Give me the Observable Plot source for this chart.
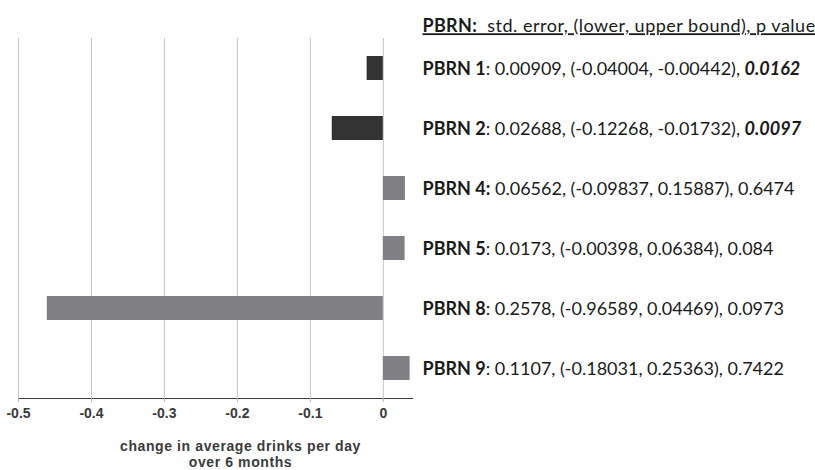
<!DOCTYPE html>
<html>
<head>
<meta charset="utf-8">
<script src="https://cdn.jsdelivr.net/npm/d3@7"></script>
<script src="https://cdn.jsdelivr.net/npm/@observablehq/plot@0.6"></script>
<style>
  body { margin: 0; background: #fff; }
</style>
</head>
<body>
<div id="chart"></div>
<script>
// Practice-based research networks, top to bottom
const sites = ["PBRN 1", "PBRN 2", "PBRN 4", "PBRN 5", "PBRN 8", "PBRN 9"];
// Bold lead-in of each annotation line (PBRN 4 carries its colon in bold)
const boldLabels = ["PBRN 1", "PBRN 2", "PBRN 4:", "PBRN 5", "PBRN 8", "PBRN 9"];
// Change in average drinks per day over 6 months
const change = [-0.0222, -0.0700, 0.0303, 0.0299, -0.4606, 0.0367];
const stdErr = ["0.00909", "0.02688", "0.06562", "0.0173", "0.2578", "0.1107"];
const lowerBound = ["-0.04004", "-0.12268", "-0.09837", "-0.00398", "-0.96589", "-0.18031"];
const upperBound = ["-0.00442", "-0.01732", "0.15887", "0.06384", "0.04469", "0.25363"];
const pValue = ["0.0162", "0.0097", "0.6474", "0.084", "0.0973", "0.7422"];

const xTicks = [-0.5, -0.4, -0.3, -0.2, -0.1, 0];
const xTickLabels = xTicks.map(d => String(d));
const xTitle = "change in average drinks per day\nover 6 months";
const headerLead = "PBRN:";
const headerRest = "  std. error, (lower, upper bound), p value";

const rows = sites.map((site, i) => ({
  site,
  change: change[i],
  significant: +pValue[i] < 0.05 ? "significant" : "not significant"
}));

const noteFont = "Lato, 'Open Sans', sans-serif";
const axisFont = "'Liberation Sans', Arial, sans-serif";

const chart = Plot.plot({
  width: 815,
  height: 470,
  marginTop: 38,
  marginBottom: 72,
  marginLeft: 18,
  marginRight: 403,
  style: {
    fontFamily: axisFont,
    fontSize: "14px",
    fontWeight: "bold",
    color: "#3a3a3a",
    background: "#ffffff"
  },
  x: {
    domain: [-0.5, 0.04],
    ticks: xTicks,
    tickFormat: (d, i) => xTickLabels[i],
    tickSize: 4,
    tickPadding: 6,
    line: true,
    label: null
  },
  y: { domain: sites, axis: null, paddingInner: 0.6, paddingOuter: 0.3 },
  color: { domain: ["significant", "not significant"], range: ["#333333", "#808084"] },
  marks: [
    Plot.ruleX(xTicks, { stroke: "#c4c4c8", strokeWidth: 1 }),
    Plot.barX(rows, { x: "change", y: "site", fill: "significant" }),
    // One annotation line per network, level with its bar
    Plot.text(rows, {
      y: "site",
      text: "site",
      frameAnchor: "right",
      dx: 10,
      dy: 1,
      textAnchor: "start",
      fontFamily: noteFont,
      fontSize: 18,
      fontWeight: "normal",
      fill: "#1a1a1a"
    }),
    // Column header above the annotations
    Plot.text([headerLead], {
      frameAnchor: "top-right",
      dx: 10,
      dy: -19,
      textAnchor: "start",
      fontFamily: noteFont,
      fontSize: 18,
      fontWeight: "normal",
      fill: "#1a1a1a"
    }),
    // Axis title under the tick labels
    Plot.text([xTitle], {
      frameAnchor: "bottom",
      dx: 25,
      dy: 42,
      lineAnchor: "top",
      lineHeight: 1.1,
      fontFamily: axisFont,
      fontSize: 14,
      fontWeight: "bold",
      fill: "#3a3a3a"
    })
  ]
});

document.getElementById("chart").appendChild(chart);

const svg = d3.select(chart);

// Axis: grey line and ticks
svg.selectAll("[aria-label^='x-axis'] line, [aria-label^='x-axis'] path")
  .attr("stroke", "#b6b6ba");

svg.selectAll("text").each(function () {
  const content = this.textContent;
  const el = d3.select(this);
  const i = sites.indexOf(content);
  if (xTickLabels.includes(content)) {
    // Bold, larger tick labels
    el.attr("font-size", 14)
      .style("font-size", "14px")
      .style("font-family", axisFont)
      .style("font-weight", "bold")
      .attr("fill", "#3a3a3a");
  } else if (i >= 0) {
    // Rich text: bold network name, plain statistics, bold-italic significant p values
    el.text(null).style("white-space", "pre");
    const lead = boldLabels[i];
    el.append("tspan").attr("font-weight", "bold").text(lead);
    const colon = lead.endsWith(":") ? "" : ":";
    el.append("tspan").text(`${colon} ${stdErr[i]}, (${lowerBound[i]}, ${upperBound[i]}), `);
    const p = el.append("tspan").text(pValue[i]);
    if (+pValue[i] < 0.05) p.attr("font-weight", "bold").attr("font-style", "italic");
  } else if (content === headerLead) {
    el.text(null)
      .style("white-space", "pre")
      .style("text-decoration", "underline");
    el.append("tspan").attr("font-weight", "bold").style("letter-spacing", "0.3px").text(headerLead);
    el.append("tspan").style("letter-spacing", "0.5px").text(headerRest);
  }
});
// Axis title lines get slightly wider tracking
svg.selectAll("text, tspan").filter(function () {
  return /^(change in|over 6)/.test(this.textContent);
}).style("letter-spacing", "0.6px");
</script>
</body>
</html>
